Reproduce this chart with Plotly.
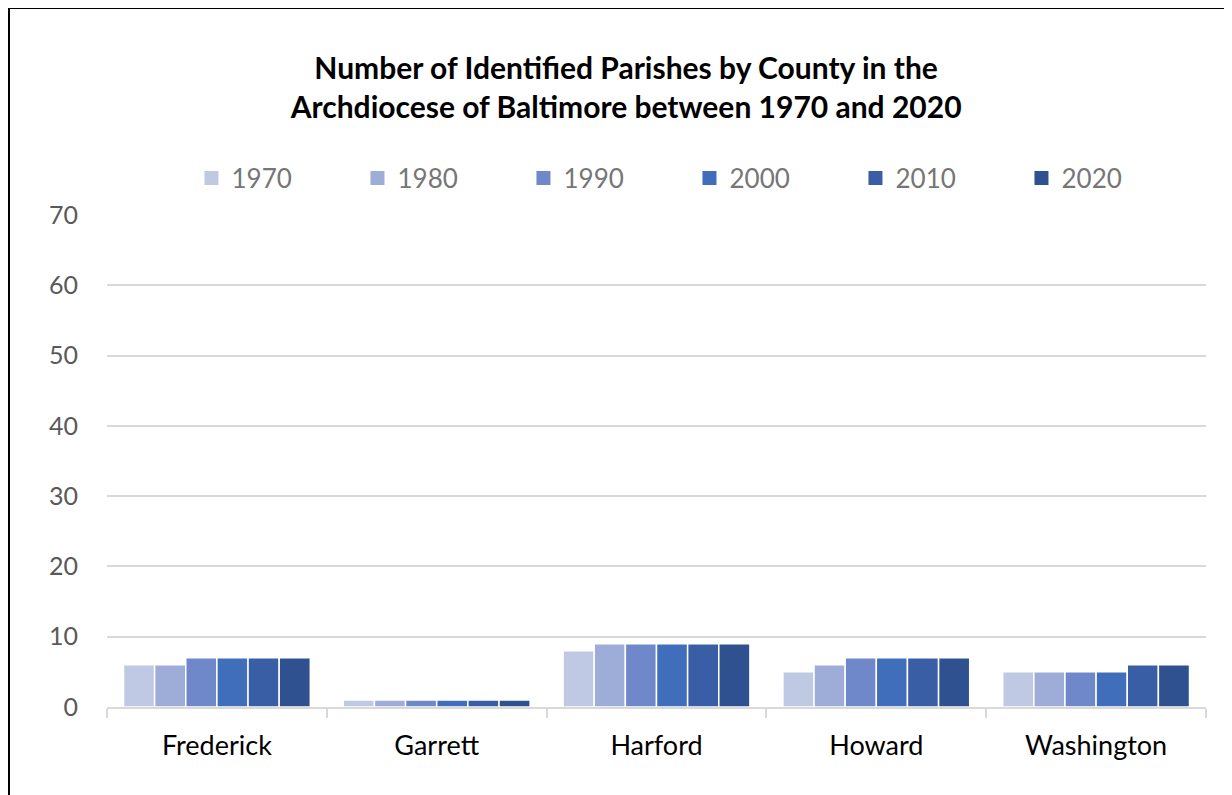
import plotly.graph_objects as go

counties = ["Frederick", "Garrett", "Harford", "Howard", "Washington"]
years = ["1970", "1980", "1990", "2000", "2010", "2020"]
values = {
    "1970": [6, 1, 8, 5, 5],
    "1980": [6, 1, 9, 6, 5],
    "1990": [7, 1, 9, 7, 5],
    "2000": [7, 1, 9, 7, 5],
    "2010": [7, 1, 9, 7, 6],
    "2020": [7, 1, 9, 7, 6],
}
colors = ["#BFC9E4", "#9DADD8", "#6E88CA", "#416EBB", "#3A5EA5", "#2F5190"]

fig = go.Figure()
for yr, c in zip(years, colors):
    fig.add_trace(go.Bar(
        name=yr, x=counties, y=values[yr], showlegend=False, legendgroup=yr,
        marker=dict(color=c, line=dict(color="white", width=1.5)),
    ))
for yr, c in zip(years, colors):
    fig.add_trace(go.Scatter(
        name=yr, x=[None], y=[None], mode="markers", legendgroup=yr,
        marker=dict(symbol="square", size=14, color=c),
    ))

fig.update_layout(
    width=1224, height=787,
    paper_bgcolor="white", plot_bgcolor="white",
    margin=dict(l=99, r=26, t=207, b=88, autoexpand=False),
    barmode="group", bargap=0.15, bargroupgap=0.0,
    font=dict(family="Lato, Open Sans, sans-serif", size=26, color="#595959"),
    title=dict(
        text="<b>Number of Identified Parishes by County in the<br>Archdiocese of Baltimore between 1970 and 2020</b>",
        x=0.505, xanchor="center", y=0.91, yanchor="middle",
        font=dict(size=30, color="black", family="Lato, Open Sans, sans-serif"),
    ),
    legend=dict(
        orientation="h", x=0.53, xanchor="center", y=1.075, yanchor="middle",
        font=dict(size=26, color="#767676"),
        entrywidth=121, entrywidthmode="pixels",
        itemsizing="trace", traceorder="normal",
    ),
    showlegend=True,
)
fig.update_yaxes(
    range=[0, 70], dtick=10, showgrid=True, gridcolor="#D9D9D9", gridwidth=1.5,
    zeroline=False, showline=False, ticks="", ticklabelstandoff=28, automargin=False,
    tickfont=dict(size=25, color="#595959"),
)
fig.update_xaxes(
    showline=True, linecolor="#D9D9D9", linewidth=1.5, automargin=False,
    ticks="outside", tickson="boundaries", ticklen=9, tickcolor="#D9D9D9", tickwidth=1.5,
    tickfont=dict(size=27, color="black"), ticklabelstandoff=14,
)
fig.add_shape(type="rect", xref="paper", yref="paper",
              x0=-98/1099, x1=1.2, y0=-0.5, y1=(699 - 0)/492,
              line=dict(color="black", width=2), fillcolor="rgba(0,0,0,0)", layer="above")
fig.write_html("out.html")
